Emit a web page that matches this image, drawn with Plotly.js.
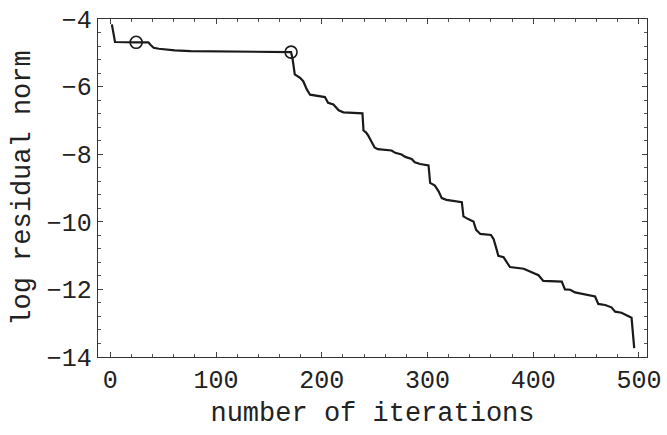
<!DOCTYPE html>
<html>
<head>
<meta charset="utf-8">
<script src="https://cdn.plot.ly/plotly-3.0.1.min.js"></script>
<style>html,body{margin:0;padding:0;background:#fff;}#chart{width:667px;height:435px;}</style>
</head>
<body>
<div id="chart"></div>
<script>
// residual history (iteration, log residual norm)
const iterations = [1.5, 4.5, 24.5, 36, 38, 41, 46, 61, 76, 101, 140, 171,
  172.5, 174.5, 179.5, 182.5, 186, 189, 203, 206, 211, 216, 220.5, 237,
  238.5, 239.5, 242, 244, 248, 250, 253, 266, 269.5, 275.5, 279, 285, 288, 293, 301,
  302.5, 307, 310.5, 313.5, 318, 332.5, 334, 338.5, 343.5, 346, 350, 360,
  362.5, 365.5, 367, 372, 375, 378, 391, 401, 405, 409.5, 427, 430, 435,
  439.5, 458.5, 461.5, 468, 474, 477.5, 483.5, 491.5, 493, 495.5];
const logResidual = [-4.16, -4.68, -4.69, -4.69, -4.76, -4.85, -4.88, -4.93, -4.95, -4.96, -4.97, -4.98,
  -5.2, -5.64, -5.74, -5.84, -6.09, -6.24, -6.31, -6.48, -6.53, -6.70, -6.76, -6.78,
  -6.79, -7.3, -7.36, -7.45, -7.7, -7.8, -7.85, -7.89, -7.96, -8.01, -8.08, -8.14, -8.24, -8.29, -8.33,
  -8.85, -8.93, -9.10, -9.30, -9.35, -9.42, -9.84, -9.92, -9.99, -10.24, -10.36, -10.39,
  -10.51, -10.83, -11.01, -11.05, -11.18, -11.34, -11.39, -11.53, -11.58, -11.75, -11.77, -12.0, -12.01,
  -12.09, -12.21, -12.43, -12.46, -12.53, -12.66, -12.69, -12.81, -12.84, -13.74];
// marked iterations (circles)
const markX = [24.5, 171];
const markY = [-4.69, -4.98];

const xTickVals = [0, 100, 200, 300, 400, 500];
const yTickVals = [-14, -12, -10, -8, -6, -4];

const fontMono = '"Liberation Mono", "DejaVu Sans Mono", monospace';

Plotly.newPlot('chart', [
  {x: iterations, y: logResidual, type: 'scatter', mode: 'lines',
   line: {color: '#1a1a1a', width: 2.2}, hoverinfo: 'skip'},
  {x: markX, y: markY, type: 'scatter', mode: 'markers',
   marker: {symbol: 'circle-open', size: 12, color: '#1a1a1a', line: {width: 1.6, color: '#1a1a1a'}}}
], {
  width: 667, height: 435,
  margin: {l: 98, r: 20, t: 19, b: 78},
  paper_bgcolor: '#fff', plot_bgcolor: '#fff',
  showlegend: false,
  font: {family: fontMono, color: '#222'},
  xaxis: {
    range: [-11.6, 507.6], tickvals: xTickVals, ticks: 'inside', ticklen: 5, tickwidth: 1,
    tickcolor: '#444', showline: true, linecolor: '#333', linewidth: 1.3, mirror: 'ticks',
    showgrid: false, zeroline: false, tickfont: {size: 25, family: fontMono, color: '#222'},
    minor: {dtick: 20, tick0: 0, ticks: 'inside', ticklen: 3, tickcolor: '#555', tickwidth: 1, showgrid: false},
    title: {text: 'number of iterations', font: {size: 27, family: fontMono, color: '#222'}, standoff: 6},
    automargin: false
  },
  yaxis: {
    range: [-14, -4], tickvals: yTickVals, ticks: 'inside', ticklen: 5, tickwidth: 1,
    tickcolor: '#444', showline: true, linecolor: '#333', linewidth: 1.3, mirror: 'ticks',
    showgrid: false, zeroline: false, tickfont: {size: 25, family: fontMono, color: '#222'},
    minor: {dtick: 0.4, tick0: -4, ticks: 'inside', ticklen: 3, tickcolor: '#555', tickwidth: 1, showgrid: false},
    title: {text: 'log residual norm', font: {size: 27, family: fontMono, color: '#222'}, standoff: 8},
    automargin: false
  }
}, {staticPlot: true});
</script>
</body>
</html>
